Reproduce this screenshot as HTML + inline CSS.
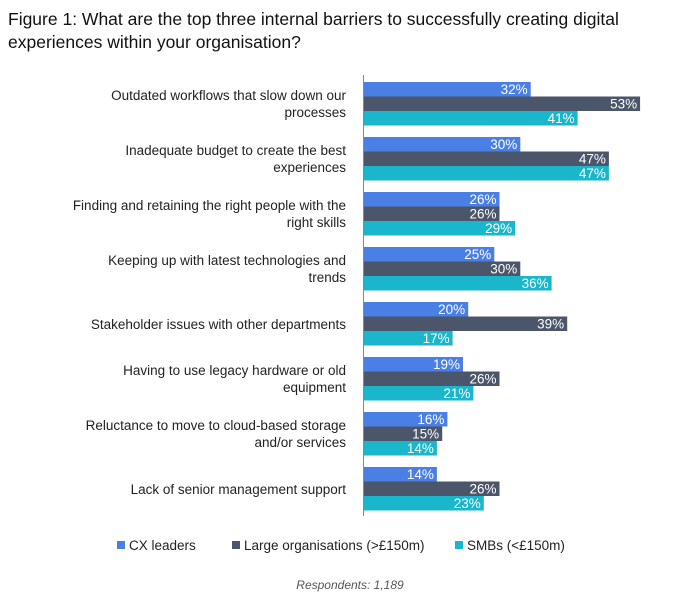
<!DOCTYPE html>
<html><head><style>
body{margin:0;background:#fff;font-family:"Liberation Sans",Arial,sans-serif;}
</style></head><body>
<svg width="700" height="606" xmlns="http://www.w3.org/2000/svg" font-family="Liberation Sans, Arial, sans-serif">
<text x="8" y="25" font-size="17.5" fill="#111">Figure 1: What are the top three internal barriers to successfully creating digital</text>
<text x="8" y="48" font-size="17.5" fill="#111">experiences within your organisation?</text>
<g>
<rect x="364" y="82" width="166.7" height="14.5" fill="#4a7fe6"/><rect x="364" y="96.5" width="276.1" height="14.5" fill="#4b566a"/><rect x="364" y="111" width="213.6" height="14.5" fill="#1ab6cc"/>
<rect x="364" y="137" width="156.3" height="14.5" fill="#4a7fe6"/><rect x="364" y="151.5" width="244.9" height="14.5" fill="#4b566a"/><rect x="364" y="166" width="244.9" height="14.5" fill="#1ab6cc"/>
<rect x="364" y="192" width="135.5" height="14.5" fill="#4a7fe6"/><rect x="364" y="206.5" width="135.5" height="14.5" fill="#4b566a"/><rect x="364" y="221" width="151.1" height="14.5" fill="#1ab6cc"/>
<rect x="364" y="247" width="130.3" height="14.5" fill="#4a7fe6"/><rect x="364" y="261.5" width="156.3" height="14.5" fill="#4b566a"/><rect x="364" y="276" width="187.6" height="14.5" fill="#1ab6cc"/>
<rect x="364" y="302" width="104.2" height="14.5" fill="#4a7fe6"/><rect x="364" y="316.5" width="203.2" height="14.5" fill="#4b566a"/><rect x="364" y="331" width="88.6" height="14.5" fill="#1ab6cc"/>
<rect x="364" y="357" width="99" height="14.5" fill="#4a7fe6"/><rect x="364" y="371.5" width="135.5" height="14.5" fill="#4b566a"/><rect x="364" y="386" width="109.4" height="14.5" fill="#1ab6cc"/>
<rect x="364" y="412" width="83.4" height="14.5" fill="#4a7fe6"/><rect x="364" y="426.5" width="78.2" height="14.5" fill="#4b566a"/><rect x="364" y="441" width="72.9" height="14.5" fill="#1ab6cc"/>
<rect x="364" y="467" width="72.9" height="14.5" fill="#4a7fe6"/><rect x="364" y="481.5" width="135.5" height="14.5" fill="#4b566a"/><rect x="364" y="496" width="119.8" height="14.5" fill="#1ab6cc"/>
</g>
<g font-size="13.5" fill="#fff" text-anchor="end">
<text x="527.7" y="94">32%</text><text x="637.1" y="108.5">53%</text><text x="574.6" y="123">41%</text>
<text x="517.3" y="149">30%</text><text x="605.9" y="163.5">47%</text><text x="605.9" y="178">47%</text>
<text x="496.5" y="204">26%</text><text x="496.5" y="218.5">26%</text><text x="512.1" y="233">29%</text>
<text x="491.3" y="259">25%</text><text x="517.3" y="273.5">30%</text><text x="548.6" y="288">36%</text>
<text x="465.2" y="314">20%</text><text x="564.2" y="328.5">39%</text><text x="449.6" y="343">17%</text>
<text x="460" y="369">19%</text><text x="496.5" y="383.5">26%</text><text x="470.4" y="398">21%</text>
<text x="444.4" y="424">16%</text><text x="439.2" y="438.5">15%</text><text x="433.9" y="453">14%</text>
<text x="433.9" y="479">14%</text><text x="496.5" y="493.5">26%</text><text x="480.8" y="508">23%</text>
</g>
<line x1="363.5" y1="75" x2="363.5" y2="516" stroke="#888" stroke-width="1"/>
<g font-size="13.5" fill="#222" text-anchor="end">
<text x="346" y="100">Outdated workflows that slow down our</text><text x="346" y="117">processes</text>
<text x="346" y="155">Inadequate budget to create the best</text><text x="346" y="172">experiences</text>
<text x="346" y="210">Finding and retaining the right people with the</text><text x="346" y="227">right skills</text>
<text x="346" y="265">Keeping up with latest technologies and</text><text x="346" y="282">trends</text>
<text x="346" y="329">Stakeholder issues with other departments</text>
<text x="346" y="375">Having to use legacy hardware or old</text><text x="346" y="392">equipment</text>
<text x="346" y="430">Reluctance to move to cloud-based storage</text><text x="346" y="447">and/or services</text>
<text x="346" y="494">Lack of senior management support</text>
</g>
<g font-size="13.5" fill="#222">
<rect x="117" y="541" width="8" height="8" fill="#4a7fe6"/><text x="129" y="550">CX leaders</text>
<rect x="232" y="541" width="8" height="8" fill="#4b566a"/><text x="244" y="550">Large organisations (&gt;£150m)</text>
<rect x="455" y="541" width="8" height="8" fill="#1ab6cc"/><text x="467" y="550">SMBs (&lt;£150m)</text>
</g>
<text x="350" y="589" font-size="12" font-style="italic" fill="#555" text-anchor="middle">Respondents: 1,189</text>
</svg>
</body></html>
